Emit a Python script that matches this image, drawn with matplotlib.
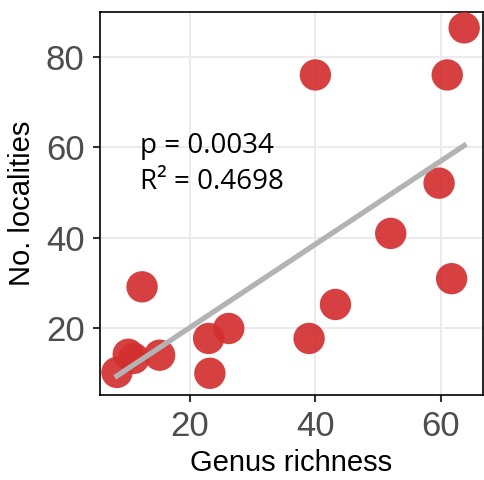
import numpy as np
import matplotlib.pyplot as plt

# genus richness vs number of localities
genus_richness = [63.7, 40.0, 61.0, 59.7, 52.0, 61.7, 43.2, 39.0, 26.2, 23.0, 23.2, 12.4, 15.2, 11.1, 10.2, 8.4]
n_localities = [86.4, 76.0, 76.0, 52.1, 41.0, 31.0, 25.3, 17.8, 20.0, 17.8, 10.1, 29.2, 14.1, 13.4, 14.3, 10.3]
x_ticks = [20, 40, 60]
y_ticks = [20, 40, 60, 80]
p_text = "p = 0.0034"
r2_text = "R² = 0.4698"

x = np.array(genus_richness)
y = np.array(n_localities)
slope, intercept = np.polyfit(x, y, 1)
xs = np.array([x.min(), x.max()])

fig = plt.figure(figsize=(4.84, 4.8), dpi=100)
ax = fig.add_axes([0.2066, 0.177, 0.7914, 0.798])

ax.scatter(x, y, s=510, color="#d32f2f", alpha=0.92, edgecolors="none", zorder=3)
ax.plot(xs, slope * xs + intercept, color="#b3b3b3", lw=3.8, zorder=4)

ax.text(12.1, 60.2, p_text, fontsize=20, family="Open Sans", va="center", zorder=5)
ax.text(12.1, 52.3, r2_text, fontsize=20, family="Open Sans", va="center", zorder=5)

ax.set_xlim(5.7, 66.7)
ax.set_ylim(5.3, 89.9)
ax.set_xticks(x_ticks)
ax.set_yticks(y_ticks)
ax.grid(color="#ebebeb", lw=1.4, zorder=0)
ax.set_axisbelow(True)
for s in ax.spines.values():
    s.set_linewidth(1.2)
    s.set_color("black")
ax.tick_params(labelsize=25, labelcolor="#4d4d4d", length=5, width=1.5, color="#333333", pad=6)
for lab in ax.get_xticklabels() + ax.get_yticklabels():
    lab.set_family("Liberation Sans")
ax.set_xlabel("Genus richness", fontsize=21, family="Liberation Sans", labelpad=4)
ax.set_ylabel("No. localities", fontsize=21, family="Liberation Sans", labelpad=7)

fig.savefig("out.png", dpi=100)
